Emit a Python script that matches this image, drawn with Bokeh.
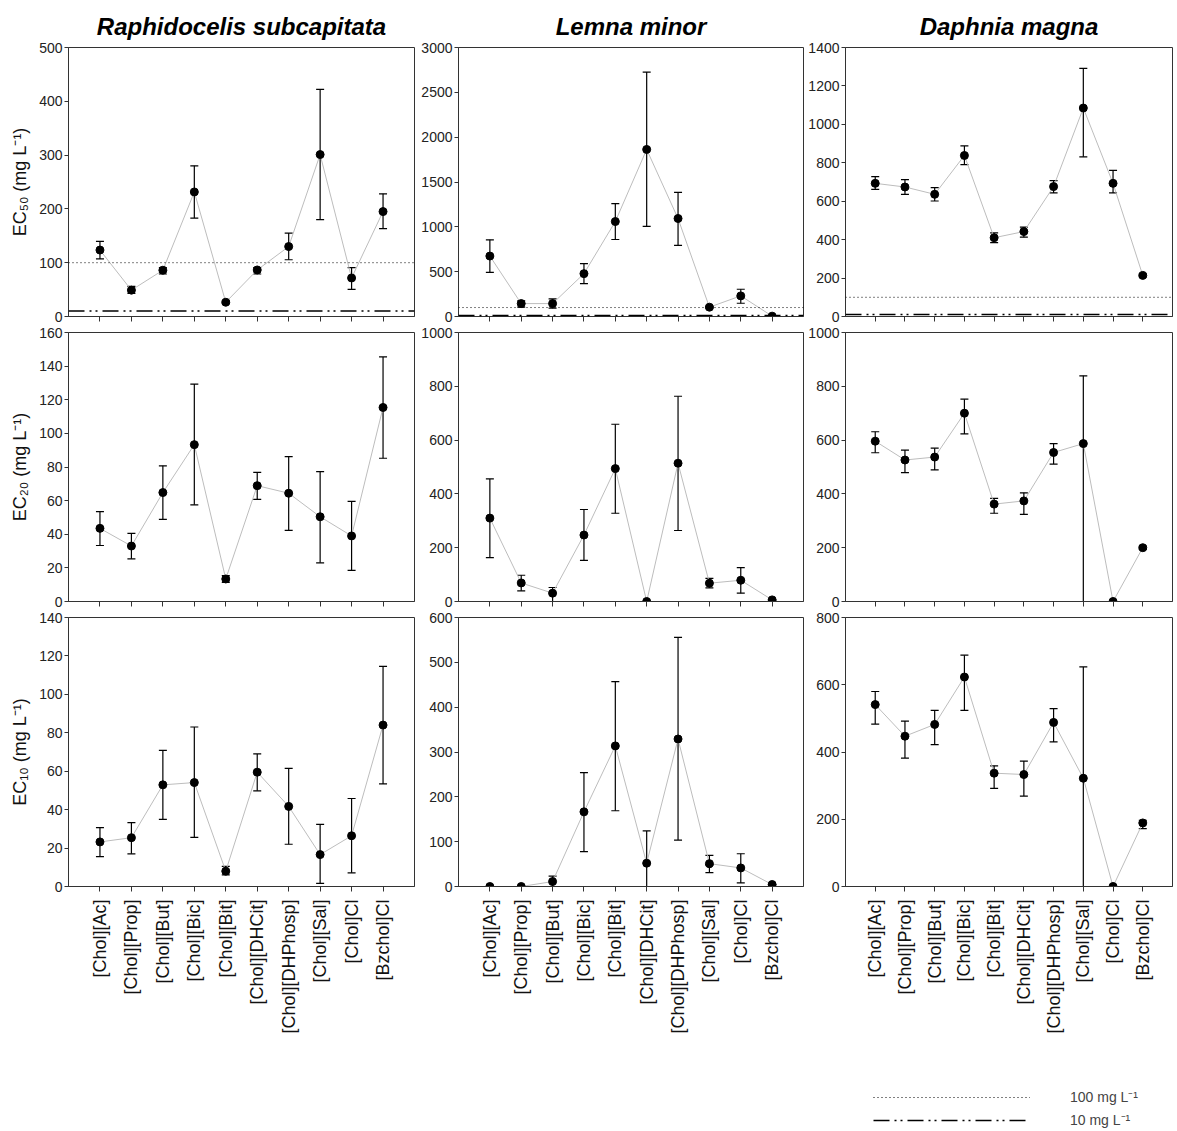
import math
from bokeh.plotting import figure
from bokeh.models import (ColumnDataSource, Whisker, TeeHead, Span, FactorRange,
                          Range1d, FixedTicker, Legend, LegendItem)
from bokeh.layouts import column, row
from bokeh.embed import file_html
from bokeh.resources import INLINE

compounds = ["[Chol][Ac]", "[Chol][Prop]", "[Chol][But]", "[Chol][Bic]", "[Chol][Bit]",
             "[Chol][DHCit]", "[Chol][DHPhosp]", "[Chol][Sal]", "[Chol]Cl", "[Bzchol]Cl"]
species = ["Raphidocelis subcapitata", "Lemna minor", "Daphnia magna"]
endpoints = ["EC\u2085\u2080 (mg L\u207b\u00b9)", "EC\u2082\u2080 (mg L\u207b\u00b9)", "EC\u2081\u2080 (mg L\u207b\u00b9)"]

# EC50
rs_ec50 = [123.5, 49, 86, 231.5, 26.5, 86.5, 130, 301, 71.6, 195]
rs_ec50_lo = [107, 43, 79, 183, 24, 79, 105.5, 180, 50.6, 163.5]
rs_ec50_hi = [139.5, 56, 91, 280, 29, 91, 155, 422, 91, 228]
lm_ec50 = [674, 144, 144, 478, 1059, 1863, 1093, 104, 230, 4]
lm_ec50_lo = [493, 104, 93, 367, 859, 1004, 793, 94, 148, 4]
lm_ec50_hi = [855, 174, 196, 589, 1259, 2726, 1385, 114, 304, 4]
dm_ec50 = [693, 674, 636, 838, 410, 442, 676, 1085, 693, 214]
dm_ec50_lo = [662, 636, 601, 790, 384, 413, 643, 831, 643, 206]
dm_ec50_hi = [728, 712, 671, 888, 435, 465, 707, 1291, 760, 222]
# EC20
rs_ec20 = [43.5, 33, 64.8, 93.3, 13.4, 68.9, 64.4, 50.4, 39, 115.4]
rs_ec20_lo = [33.3, 25.4, 48.8, 57.5, 11.4, 60.8, 42.3, 23, 18.5, 85.2]
rs_ec20_hi = [53.5, 40.5, 80.7, 129.3, 15.4, 76.8, 86.2, 77.2, 59.6, 145.5]
lm_ec20 = [310, 69, 31, 247, 494, 0, 514, 68, 79, 6]
lm_ec20_lo = [163, 39.5, 0, 153, 328, 0, 264, 51, 31, 6]
lm_ec20_hi = [455.5, 97.5, 52, 342, 659, 0, 763, 86, 126, 6]
dm_ec20 = [596, 526, 537, 700, 362, 374, 554, 587, 0, 200]
dm_ec20_lo = [553, 479, 489, 623, 328, 324, 511, 0, 0, 194]
dm_ec20_hi = [631, 563, 570, 752, 383, 404, 587, 839, 0, 206]
# EC10
rs_ec10 = [23.2, 25.4, 52.9, 54.1, 8, 59.5, 41.7, 16.6, 26.4, 84]
rs_ec10_lo = [15.6, 17, 34.9, 25.6, 6, 49.8, 22, 1.6, 7.1, 53.4]
rs_ec10_hi = [30.6, 33.2, 70.8, 83, 10.5, 69, 61.5, 32.3, 45.8, 114.6]
lm_ec10 = [0, 0, 11, 166.5, 313.6, 52, 329, 51, 41.4, 4.4]
lm_ec10_lo = [0, 0, 0, 78, 169, 0, 103.5, 31, 8, 4.4]
lm_ec10_hi = [0, 0, 23, 254, 457, 124, 555.5, 69.5, 73, 4.4]
dm_ec10 = [541, 447, 482, 623, 337, 333, 488, 322, 0, 189]
dm_ec10_lo = [483, 382, 422, 524, 292, 269, 430, 0, 0, 172]
dm_ec10_hi = [580, 492, 524, 688, 359, 373, 529, 653, 0, 197]

y_max = [[500, 3000, 1400], [160, 1000, 1000], [140, 600, 800]]
y_step = [[100, 500, 200], [20, 200, 200], [20, 100, 200]]
thresholds = [100, 10]
threshold_labels = ["100 mg L\u207b\u00b9", "10 mg L\u207b\u00b9"]

panels = [
    [(rs_ec50, rs_ec50_lo, rs_ec50_hi), (lm_ec50, lm_ec50_lo, lm_ec50_hi), (dm_ec50, dm_ec50_lo, dm_ec50_hi)],
    [(rs_ec20, rs_ec20_lo, rs_ec20_hi), (lm_ec20, lm_ec20_lo, lm_ec20_hi), (dm_ec20, dm_ec20_lo, dm_ec20_hi)],
    [(rs_ec10, rs_ec10_lo, rs_ec10_hi), (lm_ec10, lm_ec10_lo, lm_ec10_hi), (dm_ec10, dm_ec10_lo, dm_ec10_hi)],
]

FONT = "Liberation Sans"
AXC = "#333333"
DOT = "1 3"
DASHDOT = "16 5 2 4 2 5"

col_left = [68, 40, 40]
col_frame = [346, 345, 327]
col_right = [4, 2, 3]
row_top = [47, 8, 8]
row_frame = [269, 269, 269]
row_bottom = [8, 8, 152]

rows = []
for r in range(3):
    figs = []
    for c in range(3):
        vals, lo, hi = panels[r][c]
        w = col_left[c] + col_frame[c] + col_right[c]
        h = row_top[r] + row_frame[r] + row_bottom[r]
        p = figure(width=w, height=h, output_backend="svg", toolbar_location=None,
                   x_range=FactorRange(factors=compounds, range_padding=0.1),
                   y_range=Range1d(0, y_max[r][c]),
                   min_border_left=col_left[c], min_border_right=col_right[c],
                   min_border_top=row_top[r], min_border_bottom=row_bottom[r])
        p.grid.visible = False
        p.outline_line_color = AXC
        p.outline_line_width = 1
        p.background_fill_color = "white"
        p.border_fill_color = "white"
        if r == 0:
            p.title.text = species[c]
            p.title.align = "center"
            p.title.text_font = FONT
            p.title.text_font_style = "bold italic"
            p.title.text_font_size = "24px"
            p.title.text_color = "black"
            p.title.standoff = 15
        src = ColumnDataSource(dict(x=compounds, y=vals, lower=lo, upper=hi))
        p.line("x", "y", source=src, line_color="#bdbdbd", line_width=1)
        p.add_layout(Whisker(base="x", lower="lower", upper="upper", source=src,
                             dimension="height", line_color="black", line_width=1.2,
                             upper_head=TeeHead(size=8, line_color="black", line_width=1.2),
                             lower_head=TeeHead(size=8, line_color="black", line_width=1.2)))
        p.scatter("x", "y", source=src, size=8, color="black")
        if r == 0:
            p.add_layout(Span(location=thresholds[0], dimension="width", line_color="black",
                              line_dash=DOT, line_width=1))
            p.add_layout(Span(location=thresholds[1], dimension="width", line_color="black",
                              line_dash=DASHDOT, line_width=1.5))
        ya = p.yaxis[0]
        ya.ticker = FixedTicker(ticks=list(range(0, y_max[r][c] + 1, y_step[r][c])))
        ya.minor_tick_line_color = None
        ya.major_tick_out = 4
        ya.major_tick_in = 0
        ya.major_label_standoff = 2
        ya.major_label_text_font = FONT
        ya.major_label_text_font_size = "14px"
        ya.major_label_text_color = "#222222"
        ya.axis_line_color = AXC
        ya.major_tick_line_color = AXC
        if c == 0:
            ya.axis_label = endpoints[r]
            ya.axis_label_text_font = FONT
            ya.axis_label_text_font_size = "18px"
            ya.axis_label_text_font_style = "normal"
            ya.axis_label_text_color = "#111111"
            ya.axis_label_standoff = 6
        xa = p.xaxis[0]
        xa.major_tick_out = 5
        xa.major_tick_in = 0
        xa.axis_line_color = AXC
        xa.major_tick_line_color = AXC
        if r == 2:
            xa.major_label_orientation = math.pi / 2
            xa.major_label_text_font = FONT
            xa.major_label_text_font_size = "18px"
            xa.major_label_text_color = "#111111"
            xa.major_label_standoff = 8
        else:
            xa.major_label_text_color = None
            xa.major_label_text_font_size = "1px"
            xa.major_label_standoff = 0
        figs.append(p)
    rows.append(row(*figs))

lf = figure(width=1175, height=93, output_backend="svg", toolbar_location=None,
            x_range=Range1d(0, 1), y_range=Range1d(0, 1),
            x_axis_location=None, y_axis_location=None, min_border=0)
lf.grid.visible = False
lf.outline_line_color = None
# dummy renderers (outside the visible range) that only feed the legend glyphs
d1 = ColumnDataSource(dict(x=[0, 1], y=[thresholds[0], thresholds[0]]))
d2 = ColumnDataSource(dict(x=[0, 1], y=[thresholds[1], thresholds[1]]))
l1 = lf.line("x", "y", source=d1, line_color="black", line_dash=DOT, line_width=1)
l2 = lf.line("x", "y", source=d2, line_color="black", line_dash=DASHDOT, line_width=1.5)
leg = Legend(items=[LegendItem(label=threshold_labels[0], renderers=[l1]),
                    LegendItem(label=threshold_labels[1], renderers=[l2])],
             location=(873, 2), glyph_width=157, glyph_height=14, label_standoff=40,
             padding=0, margin=0, spacing=4, border_line_color=None,
             background_fill_alpha=0, label_text_font=FONT, label_text_font_size="14px")
lf.add_layout(leg)

layout = column(*rows, lf)
open("out.html", "w").write(file_html(layout, INLINE))
